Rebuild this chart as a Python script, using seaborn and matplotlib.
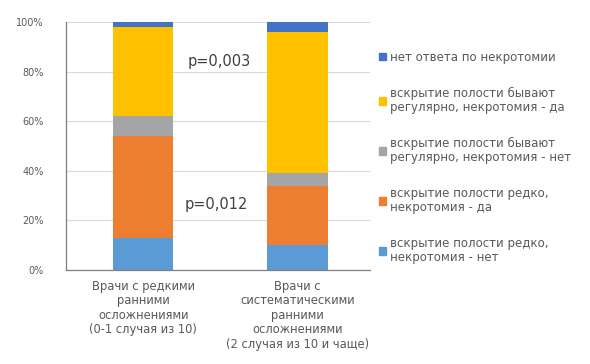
import numpy as np
import pandas as pd
import matplotlib.pyplot as plt
import seaborn as sns
from matplotlib.patches import Patch

sns.set_style("white")
plt.rcParams['font.family'] = ['DejaVu Sans']

# категории (ось X)
groups = ["Врачи с редкими\nранними\nосложнениями\n(0-1 случая из 10)",
          "Врачи с\nсистематическими\nранними\nосложнениями\n(2 случая из 10 и чаще)"]

# серии снизу вверх, доли в %
series = ["вскрытие полости редко,\nнекротомия - нет",
          "вскрытие полости редко,\nнекротомия - да",
          "вскрытие полости бывают\nрегулярно, некротомия - нет",
          "вскрытие полости бывают\nрегулярно, некротомия - да",
          "нет ответа по некротомии"]
rare_no = [13, 10]
rare_yes = [41, 24]
regular_no = [8, 5]
regular_yes = [36, 57]
no_answer = [2, 4]
colors = ["#5B9BD5", "#ED7D31", "#A5A5A5", "#FFC000", "#4472C4"]

p_labels = ["p=0,003", "p=0,012"]

values = np.array([rare_no, rare_yes, regular_no, regular_yes, no_answer])
cum = values.cumsum(axis=0)

fig = plt.figure(figsize=(5.9, 3.64), dpi=100)
ax = fig.add_axes([66 / 590, 94 / 364, 304 / 590, 248 / 364])

# рисуем накопленные столбцы сверху вниз
for i in range(len(series) - 1, -1, -1):
    df = pd.DataFrame({"group": groups, "value": cum[i]})
    sns.barplot(data=df, x="group", y="value", color=colors[i],
                saturation=1, width=0.39, linewidth=0, ax=ax, zorder=2)

ax.set_xlim(-0.5, 1.47)
ax.set_ylim(0, 100)
ax.set_yticks(range(0, 101, 20))
ax.set_yticklabels([f"{t}%" for t in range(0, 101, 20)])
ax.yaxis.grid(True, color="#D9D9D9", linewidth=0.8, zorder=0)
ax.set_axisbelow(True)
ax.set_xlabel("")
ax.set_ylabel("")
ax.tick_params(axis="y", length=0, labelsize=7, colors="#595959", pad=16)
ax.tick_params(axis="x", length=0, labelsize=8.3, colors="#595959", pad=7)
for lbl in ax.get_xticklabels():
    lbl.set_linespacing(1.15)
for s in ["top", "right"]:
    ax.spines[s].set_visible(False)
for s in ["left", "bottom"]:
    ax.spines[s].set_color("#7F7F7F")
    ax.spines[s].set_linewidth(0.9)

ax.text(0.29, 84, p_labels[0], fontsize=10.5, color="#404040", va="center")
ax.text(0.27, 26.5, p_labels[1], fontsize=10.5, color="#404040", va="center")

handles = [Patch(color=colors[i]) for i in range(len(series) - 1, -1, -1)]
labels = [series[i] for i in range(len(series) - 1, -1, -1)]
leg = fig.legend(handles, labels, loc="upper left", bbox_to_anchor=(368 / 590, 1 - 40 / 364),
                 frameon=False, fontsize=8.5, labelspacing=1.95, handlelength=0.6,
                 handleheight=0.6, handletextpad=0.4, labelcolor="#595959")
for t in leg.get_texts():
    t.set_linespacing(1.1)

fig.savefig("out.png", dpi=100)
